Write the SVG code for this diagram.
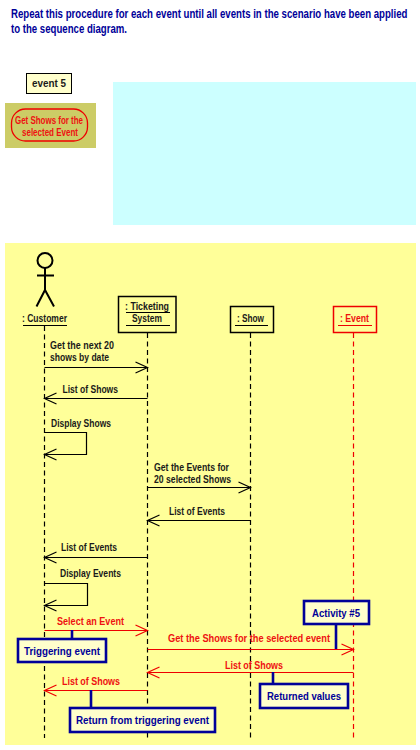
<svg xmlns="http://www.w3.org/2000/svg" width="420" height="750" viewBox="0 0 420 750">
<style>
text{font-family:"Liberation Sans",Arial,sans-serif;font-size:11px;font-weight:700;fill:#1a1a1a}
.p{font-size:10.4px}
.r{fill:#ee1111}
.n{fill:#000099;font-size:11.5px}
.t{font-size:12.5px;fill:#000099}
.box{fill:none;stroke:#000;stroke-width:1.5}
.life{stroke:#000;stroke-width:1.2;stroke-dasharray:5 3.5;fill:none}
.msg{stroke:#000;stroke-width:1.2;fill:none;marker-end:url(#ak)}
.red{stroke:#ee0000;stroke-width:1.2;fill:none;marker-end:url(#ar)}
.u{stroke:#000;stroke-width:1}
.note{fill:#ffffcc;stroke:#000099;stroke-width:2.6}
.stem{stroke:#000099;stroke-width:2.6}
</style>
<defs>
<marker id="ak" markerUnits="userSpaceOnUse" markerWidth="16" markerHeight="14" refX="13" refY="6.5" orient="auto"><path d="M1 1L13 6.5L1 12" fill="none" stroke="#000" stroke-width="1.2"/></marker>
<marker id="ar" markerUnits="userSpaceOnUse" markerWidth="16" markerHeight="14" refX="13" refY="6.5" orient="auto"><path d="M1 1L13 6.5L1 12" fill="none" stroke="#ee0000" stroke-width="1.2"/></marker>
</defs>
<rect width="420" height="750" fill="#fff"/>
<g id="intro">
<text class="t" transform="translate(11 18) scale(.772 1)">Repeat this procedure for each event until all events in the scenario have been applied</text>
<text class="t" x="11" y="33" textLength="116" lengthAdjust="spacingAndGlyphs">to the sequence diagram.</text>
</g>
<g id="event-5"><rect x="26.5" y="73.5" width="45" height="20" fill="#ffffcc" stroke="#000" stroke-width="1"/>
<text x="32" y="87" textLength="34" lengthAdjust="spacingAndGlyphs">event 5</text></g>
<g id="activity-state"><rect x="5" y="103" width="91" height="45" fill="#cccc66"/>
<rect x="11.5" y="109" width="76" height="32" rx="14" fill="none" stroke="#ee0000" stroke-width="1.3"/>
<text class="r p" x="15" y="124" textLength="68" lengthAdjust="spacingAndGlyphs">Get Shows for the</text>
<text class="r p" x="22" y="135.5" textLength="56" lengthAdjust="spacingAndGlyphs">selected Event</text></g>
<rect id="cyan-panel" x="113" y="82" width="303" height="143" fill="#ccffff"/>
<rect id="background" x="5" y="243" width="411" height="502" fill="#ffff99"/>
<g id="lifelines">
<line class="life" x1="44.5" y1="326" x2="44.5" y2="738"/>
<line class="life" x1="147.5" y1="333" x2="147.5" y2="738"/>
<line class="life" x1="250.5" y1="333" x2="250.5" y2="738"/>
<line class="life" x1="353.5" y1="333" x2="353.5" y2="738" style="stroke:#ee0000"/>
</g>
<g id="customer">
<circle cx="45" cy="260.5" r="7.5" fill="none" stroke="#000" stroke-width="2"/>
<path d="M45 268V290M37 275.5H54M36.5 306.5L45 290L54 306.5" fill="none" stroke="#000" stroke-width="2"/>
<text x="22" y="322" textLength="45" lengthAdjust="spacingAndGlyphs">: Customer</text>
<line class="u" x1="23" y1="325.5" x2="67" y2="325.5"/>
</g>
<g id="ticketing">
<rect class="box" x="118.5" y="296.5" width="57.5" height="36"/>
<text class="p" x="125" y="310" textLength="44" lengthAdjust="spacingAndGlyphs">: Ticketing</text>
<line class="u" x1="126" y1="312.5" x2="170" y2="312.5"/>
<text class="p" x="132" y="322" textLength="30" lengthAdjust="spacingAndGlyphs">System</text>
<line class="u" x1="126" y1="325.5" x2="170" y2="325.5"/>
</g>
<g id="show">
<rect class="box" x="230.5" y="306.5" width="43" height="26"/>
<text x="237" y="322" textLength="27" lengthAdjust="spacingAndGlyphs">: Show</text>
<line class="u" x1="235" y1="325.5" x2="268" y2="325.5"/>
</g>
<g id="event">
<rect class="box" x="333.5" y="306.5" width="43" height="26" style="stroke:#ee0000"/>
<text class="r" x="340" y="322" textLength="29" lengthAdjust="spacingAndGlyphs">: Event</text>
<line class="u" x1="338" y1="325.5" x2="372" y2="325.5" style="stroke:#ee0000"/>
</g>
<g id="connectors">
<path class="msg" d="M44.5 367.5H147.5"/>
<path class="msg" d="M147.5 398.5H44.5"/>
<path class="msg" d="M44.5 432.5H86.5V454.5H44.5"/>
<path class="msg" d="M147.5 487.5H250.5"/>
<path class="msg" d="M250.5 520.5H147.5"/>
<path class="msg" d="M147.5 557.5H44.5"/>
<path class="msg" d="M44.5 583.5H87.5V605.5H44.5"/>
<path class="red" d="M44.5 630.5H147.5"/>
<path class="red" d="M147.5 649.5H353.5"/>
<path class="red" d="M353.5 672.5H147.5"/>
<path class="red" d="M147.5 690.5H44.5"/>
</g>
<g id="messages">
<text class="p" x="50" y="349" textLength="64" lengthAdjust="spacingAndGlyphs">Get the next 20</text>
<text class="p" x="50" y="361" textLength="59" lengthAdjust="spacingAndGlyphs">shows by date</text>
<text x="62.5" y="393" textLength="55.5" lengthAdjust="spacingAndGlyphs">List of Shows</text>
<text x="51" y="427" textLength="60" lengthAdjust="spacingAndGlyphs">Display Shows</text>
<text class="p" x="154" y="471" textLength="75" lengthAdjust="spacingAndGlyphs">Get the Events for</text>
<text class="p" x="154" y="483" textLength="77" lengthAdjust="spacingAndGlyphs">20 selected Shows</text>
<text x="169" y="515" textLength="56" lengthAdjust="spacingAndGlyphs">List of Events</text>
<text x="61" y="551" textLength="56" lengthAdjust="spacingAndGlyphs">List of Events</text>
<text x="60" y="577" textLength="61" lengthAdjust="spacingAndGlyphs">Display Events</text>
<text class="r" x="57" y="625" textLength="67" lengthAdjust="spacingAndGlyphs">Select an Event</text>
<text class="r" x="168" y="642" textLength="162" lengthAdjust="spacingAndGlyphs">Get the Shows for the selected event</text>
<text class="r" x="225" y="669" textLength="58" lengthAdjust="spacingAndGlyphs">List of Shows</text>
<text class="r" x="62" y="685" textLength="58" lengthAdjust="spacingAndGlyphs">List of Shows</text>
</g>
<g id="note-triggering"><line class="stem" x1="72" y1="630" x2="72" y2="639"/><rect class="note" x="18" y="639" width="88" height="23"/>
<text class="n" x="24" y="654.5" textLength="76" lengthAdjust="spacingAndGlyphs">Triggering event</text></g>
<g id="note-return"><line class="stem" x1="91" y1="690" x2="91" y2="708"/><rect class="note" x="70" y="708" width="145" height="24"/>
<text class="n" x="76" y="724" textLength="133" lengthAdjust="spacingAndGlyphs">Return from triggering event</text></g>
<g id="note-activity"><line class="stem" x1="336" y1="624" x2="336" y2="649"/><rect class="note" x="304" y="601" width="65" height="23"/>
<text class="n" x="312" y="617" textLength="48" lengthAdjust="spacingAndGlyphs">Activity #5</text></g>
<g id="note-returned"><line class="stem" x1="273" y1="672" x2="273" y2="684"/><rect class="note" x="260" y="684" width="88" height="24"/>
<text class="n" x="267" y="700" textLength="74" lengthAdjust="spacingAndGlyphs">Returned values</text></g>
</svg>
